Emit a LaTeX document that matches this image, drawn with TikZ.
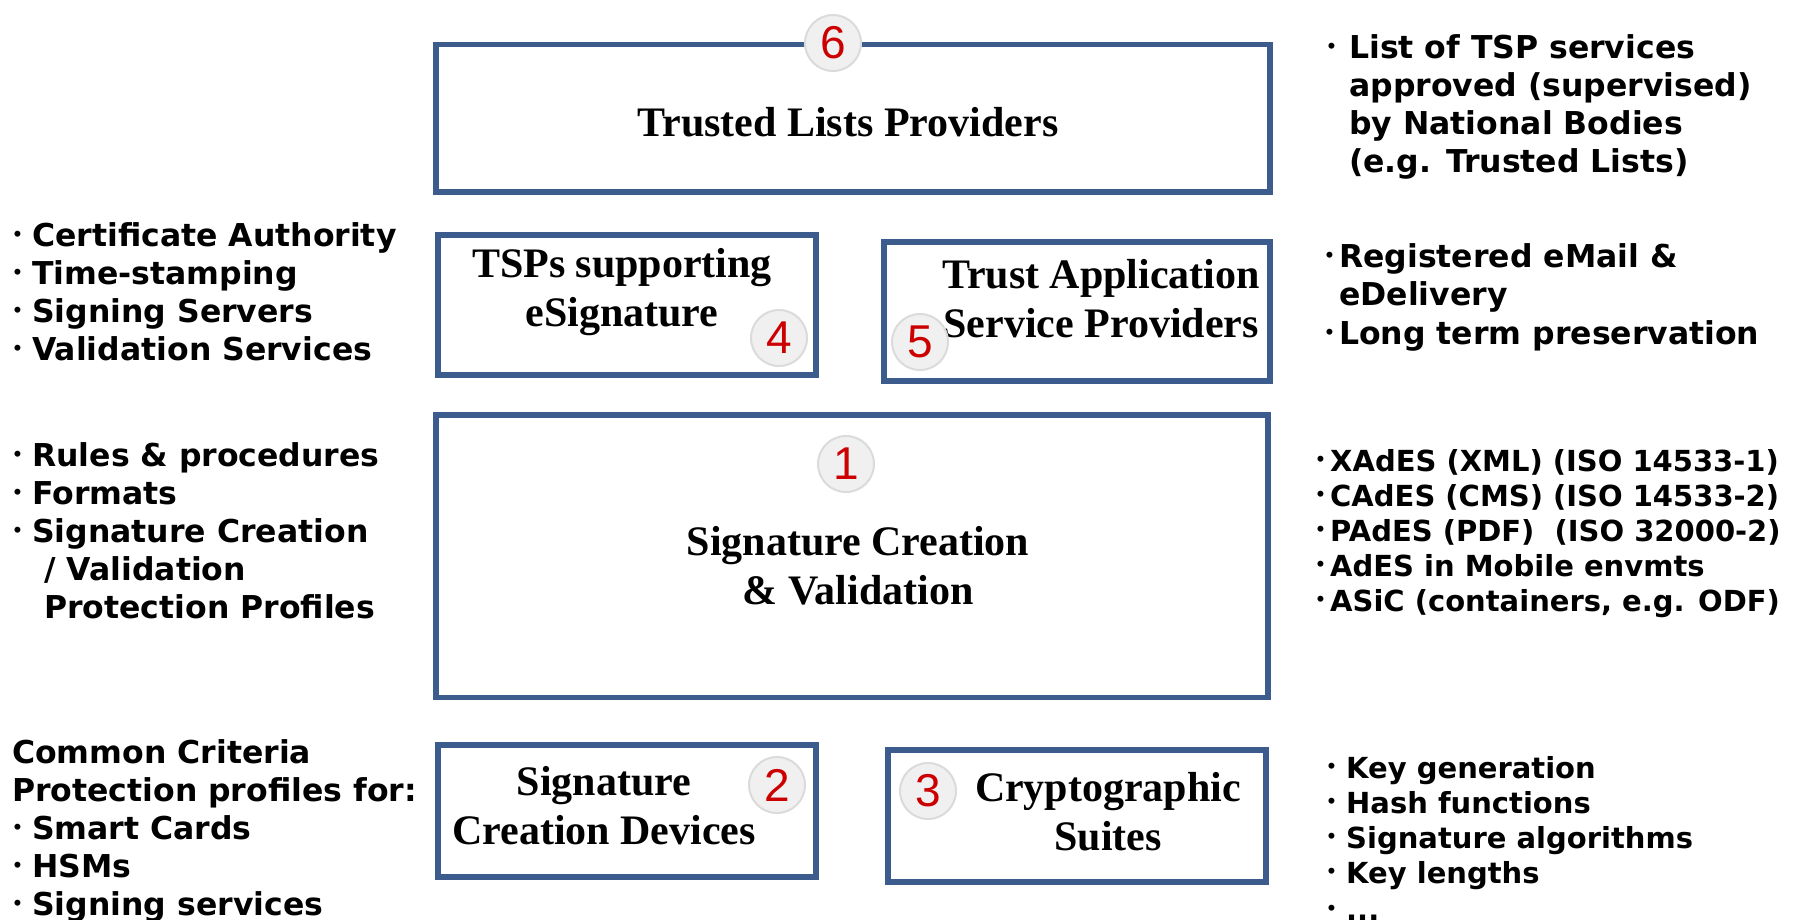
\documentclass[tikz,border=0pt]{standalone}
\usepackage{fontspec}
\setmainfont{Liberation Serif}
\newfontfamily\vf{DejaVu Sans}
\newfontfamily\nf{Liberation Sans}
\definecolor{boxblue}{RGB}{59,92,140}
\definecolor{numred}{RGB}{204,0,0}
\definecolor{circfill}{RGB}{240,240,240}
\newcommand\bl[1][20pt]{\makebox[#1][l]{\raisebox{6pt}{\fontsize{17}{17}\selectfont •}}}
\begin{document}
\begin{tikzpicture}[x=1pt,y=-1pt,
 panel/.style={draw=boxblue,line width=5.5pt,fill=white,rectangle,inner sep=0pt},
 boxtext/.style={font=\fontsize{42}{49}\selectfont\bfseries,align=center,inner sep=0pt},
 numc/.style={circle,fill=circfill,draw=black!14,line width=2pt,minimum size=56pt,inner sep=0pt,text=numred,font=\nf\fontsize{46}{46}\selectfont},
 lst/.style={anchor=base west,align=left,inner sep=0pt,font=\vf\bfseries\fontsize{31.5}{38}\selectfont},
 lsts/.style={anchor=base west,align=left,inner sep=0pt,font=\vf\bfseries\fontsize{29}{35}\selectfont}
]
\useasboundingbox[fill=white] (0,0) rectangle (1808,919);

% panels
\node[panel,minimum width=834pt,minimum height=147.5pt] (p6) at (853,118.25) {};
\node[panel,minimum width=378pt,minimum height=140pt] (p4) at (627,305) {};
\node[panel,minimum width=386pt,minimum height=139pt] (p5) at (1077,311.5) {};
\node[panel,minimum width=832pt,minimum height=282.5pt] (p1) at (852,556.25) {};
\node[panel,minimum width=378pt,minimum height=132pt] (p2) at (627,811) {};
\node[panel,minimum width=378pt,minimum height=132pt] (p3) at (1077,816) {};

% panel texts
\node[boxtext] (t6) at (848,122) {Trusted Lists Providers};
\node[boxtext] (t4) at (622,292) {TSPs supporting\\eSignature};
\node[boxtext] (t5) at (1101,299) {Trust Application\\Service Providers};
\node[boxtext] (t1) at (858,566) {Signature Creation\\\& Validation};
\node[boxtext] (t2) at (604,806) {Signature\\Creation Devices};
\node[boxtext] (t3) at (1108,812) {Cryptographic\\Suites};

% number circles
\node[numc] (c6) at (833,43) {6};
\node[numc] (c4) at (779,338) {4};
\node[numc] (c5) at (920,342) {5};
\node[numc] (c1) at (846,464) {1};
\node[numc] (c2) at (777,785) {2};
\node[numc] (c3) at (928,791) {3};

% side lists (anchor = baseline of last line)
\node[lst] (l6) at (1326,172) {\bl[23pt]List of TSP services\\\hspace*{23pt}approved (supervised)\\\hspace*{23pt}by National Bodies\\\hspace*{23pt}(e.g. Trusted Lists)};
\node[lst] (l4) at (12,360) {\bl Certificate Authority\\\bl Time-stamping\\\bl Signing Servers\\\bl Validation Services};
\node[lst] (l5) at (1324,344) {\bl[15pt]Registered eMail \&\\\hspace*{15pt}eDelivery\\[1pt]\bl[15pt]Long term preservation};
\node[lst] (l1) at (12,618) {\bl Rules \& procedures\\\bl Formats\\\bl Signature Creation\\\hspace*{32pt}/ Validation\\\hspace*{32pt}Protection Profiles};
\node[lsts] (r1) at (1315,611) {\bl[15pt]XAdES (XML) (ISO 14533-1)\\\bl[15pt]CAdES (CMS) (ISO 14533-2)\\\bl[15pt]PAdES (PDF)\ \ (ISO 32000-2)\\\bl[15pt]AdES in Mobile envmts\\\bl[15pt]ASiC (containers, e.g. ODF)};
\node[lst] (l2) at (12,915) {Common Criteria\\Protection profiles for:\\\bl Smart Cards\\\bl HSMs\\\bl Signing services};
\node[lsts] (r3) at (1326,920) {\bl Key generation\\\bl Hash functions\\\bl Signature algorithms\\\bl Key lengths\\[2pt]\bl ...};
\end{tikzpicture}
\end{document}
